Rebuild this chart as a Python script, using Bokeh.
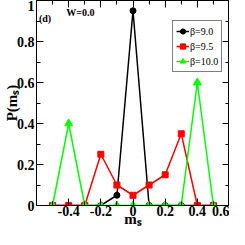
from bokeh.plotting import figure
from bokeh.models import (Range1d, FixedTicker, CustomJSTickFormatter, LinearAxis, Legend,
                          LegendItem, Label)
from bokeh.embed import file_html
from bokeh.resources import INLINE

ms = [-0.5, -0.4, -0.3, -0.2, -0.1, 0.0, 0.1, 0.2, 0.3, 0.4, 0.5]
p_b90 = [0, 0, 0, 0, 0.05, 0.95, 0, 0, 0, 0, 0]
p_b95 = [0, 0, 0, 0.25, 0.10, 0.05, 0.10, 0.15, 0.35, 0, 0]
p_b100 = [0, 0.40, 0, 0, 0, 0, 0, 0, 0, 0.60, 0]
labels = ["β=9.0", "β=9.5", "β=10.0"]
x_ticks = [-0.4, -0.2, 0.0, 0.2, 0.4, 0.6]
x_minor = [-0.5, -0.3, -0.1, 0.1, 0.3, 0.5]
y_ticks = [0.0, 0.2, 0.4, 0.6, 0.8, 1.0]
y_minor = [0.1, 0.3, 0.5, 0.7, 0.9]

FONT = "Liberation Serif"

p = figure(width=229, height=229, output_backend="svg", toolbar_location=None,
           x_range=Range1d(-0.6, 0.6), y_range=Range1d(0, 1),
           x_axis_label="mₛ", y_axis_label="P(mₛ)",
           min_border_left=0, min_border_right=0, min_border_top=0, min_border_bottom=0)
p.grid.visible = False
p.outline_line_color = "black"
p.outline_line_width = 1
p.background_fill_color = "white"
p.border_fill_color = "white"

fmt = CustomJSTickFormatter(code="return tick.toFixed(1).replace(/\\.0$/, '');")
blank = CustomJSTickFormatter(code="return '';")

def style_axis(ax, ticks, minor, show_labels=True):
    ax.ticker = FixedTicker(ticks=ticks, minor_ticks=minor)
    ax.formatter = fmt
    ax.major_tick_in = 7
    ax.major_tick_out = 0
    ax.minor_tick_in = 4
    ax.minor_tick_out = 0
    ax.axis_line_color = "black"
    ax.major_tick_line_color = "black"
    ax.minor_tick_line_color = "black"
    ax.major_label_text_font = FONT
    ax.major_label_text_font_style = "bold"
    ax.major_label_text_font_size = "14px"
    ax.major_label_text_color = "black"
    ax.major_label_standoff = 0
    ax.axis_label_text_font = FONT
    ax.axis_label_text_font_style = "bold"
    ax.axis_label_text_font_size = "15px"
    ax.axis_label_text_color = "black"
    ax.axis_label_standoff = -8
    if not show_labels:
        ax.formatter = blank
        ax.major_label_text_font_size = "1px"
        ax.major_label_standoff = 0

style_axis(p.xaxis[0], x_ticks, x_minor)
style_axis(p.yaxis[0], y_ticks, y_minor)
p.yaxis[0].axis_label_standoff = -6
p.yaxis[0].major_label_standoff = 2

top = LinearAxis()
style_axis(top, x_ticks, x_minor, show_labels=False)
right = LinearAxis()
style_axis(right, y_ticks, y_minor, show_labels=False)
p.add_layout(top, "above")
p.add_layout(right, "right")

series = [
    (p_b90, "black", "circle", 6),
    (p_b95, "#ff0000", "square", 6),
    (p_b100, "#00ff00", "triangle", 8),
]
items = []
for (vals, col, mk, sz), lab in zip(series, labels):
    r1 = p.line(ms, vals, line_color=col, line_width=1.5)
    r2 = p.scatter(ms, vals, marker=mk, size=sz, fill_color=col, line_color=col)
    items.append(LegendItem(label=lab, renderers=[r1, r2]))

legend = Legend(items=items, location=(136, 133))
legend.label_text_font = FONT
legend.label_text_font_size = "10px"
legend.label_text_color = "black"
legend.border_line_color = "black"
legend.border_line_width = 1
legend.background_fill_alpha = 1
legend.glyph_width = 13
legend.glyph_height = 14
legend.label_standoff = 1
legend.spacing = 1
legend.padding = 3
legend.margin = 0
legend.label_height = 14
p.add_layout(legend)

p.add_layout(Label(x=-0.585, y=0.885, text="(d)", text_font=FONT, text_font_style="bold",
                   text_font_size="10px", text_color="black"))
p.add_layout(Label(x=-0.415, y=0.915, text="W=0.0", text_font=FONT, text_font_style="bold",
                   text_font_size="10px", text_color="black"))

open("out.html", "w").write(file_html(p, INLINE))
